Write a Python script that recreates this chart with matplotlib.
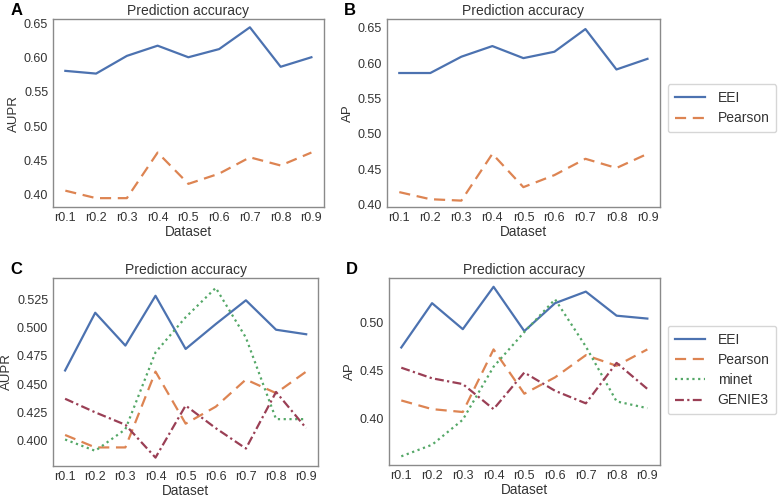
import matplotlib
matplotlib.use("Agg")
import matplotlib.pyplot as plt

plt.rcParams["font.family"] = ["Liberation Sans", "DejaVu Sans"]
plt.rcParams["font.size"] = 10

datasets = ["r0.1", "r0.2", "r0.3", "r0.4", "r0.5", "r0.6", "r0.7", "r0.8", "r0.9"]

# panel A (AUPR, two methods)
a_eei = [0.581, 0.577, 0.603, 0.618, 0.601, 0.613, 0.645, 0.587, 0.601]
a_pearson = [0.405, 0.394, 0.394, 0.461, 0.415, 0.430, 0.454, 0.442, 0.461]

# panel B (AP, two methods)
b_eei = [0.586, 0.586, 0.609, 0.624, 0.607, 0.616, 0.648, 0.591, 0.606]
b_pearson = [0.418, 0.408, 0.406, 0.472, 0.425, 0.442, 0.465, 0.452, 0.472]

# panel C (AUPR, four methods)
c_eei = [0.462, 0.513, 0.484, 0.528, 0.481, 0.503, 0.524, 0.498, 0.494]
c_pearson = [0.405, 0.394, 0.394, 0.461, 0.415, 0.430, 0.454, 0.442, 0.461]
c_minet = [0.401, 0.391, 0.410, 0.478, 0.509, 0.535, 0.491, 0.419, 0.419]
c_genie3 = [0.437, 0.425, 0.414, 0.385, 0.431, 0.411, 0.393, 0.443, 0.411]

# panel D (AP, four methods)
d_eei = [0.474, 0.520, 0.493, 0.537, 0.491, 0.520, 0.532, 0.507, 0.504]
d_pearson = [0.419, 0.410, 0.407, 0.472, 0.426, 0.443, 0.466, 0.455, 0.472]
d_minet = [0.361, 0.373, 0.399, 0.454, 0.490, 0.524, 0.475, 0.418, 0.411]
d_genie3 = [0.453, 0.442, 0.436, 0.410, 0.448, 0.429, 0.416, 0.458, 0.431]

colors = {"EEI": "#4C72B0", "Pearson": "#DD8452", "minet": "#55A868", "GENIE3": "#9a3f55"}
styles = {"EEI": "-", "Pearson": (0, (5, 3)), "minet": (0, (1, 1.6)), "GENIE3": (0, (4, 1.5, 1, 1.5))}

fig = plt.figure(figsize=(7.8, 4.97), dpi=100)


def panel(rect, letter, ylabel, series, ylim, yticks, ticklabels):
    ax = fig.add_axes(rect)
    for name, vals in series:
        ax.plot(datasets, vals, color=colors[name], linestyle=styles[name], lw=1.6, label=name)
    ax.set_ylim(*ylim)
    ax.set_yticks(yticks)
    ax.set_yticklabels(ticklabels)
    ax.set_title("Prediction accuracy", fontsize=10, pad=3, color="#333333")
    ax.set_xlabel("Dataset", fontsize=9.8, labelpad=1, color="#333333")
    ax.set_ylabel(ylabel, fontsize=9.5, labelpad=3, color="#333333")
    ax.tick_params(length=0, pad=3.5, labelsize=9, colors="#333333")
    for s in ax.spines.values():
        s.set_color("#8a8a8a")
        s.set_linewidth(1.0)
    fig.text(rect[0] - 0.055, rect[1] + rect[3] + 0.008, letter, fontsize=12, fontweight="bold")
    return ax


ax_a = panel([0.068, 0.5835, 0.347, 0.378], "A", "AUPR",
             [("EEI", a_eei), ("Pearson", a_pearson)], (0.381, 0.657),
             [0.40, 0.45, 0.50, 0.55, 0.60, 0.65], ["0.40", "0.45", "0.50", "0.55", "0.60", "0.65"])
ax_b = panel([0.496, 0.5835, 0.350, 0.378], "B", "AP",
             [("EEI", b_eei), ("Pearson", b_pearson)], (0.397, 0.662),
             [0.40, 0.45, 0.50, 0.55, 0.60, 0.65], ["0.40", "0.45", "0.50", "0.55", "0.60", "0.65"])
ax_c = panel([0.068, 0.0624, 0.340, 0.378], "C", "AUPR",
             [("EEI", c_eei), ("Pearson", c_pearson), ("minet", c_minet), ("GENIE3", c_genie3)],
             (0.3776, 0.5436),
             [0.400, 0.425, 0.450, 0.475, 0.500, 0.525], ["0.400", "0.425", "0.450", "0.475", "0.500", "0.525"])
ax_d = panel([0.4987, 0.0644, 0.347, 0.376], "D", "AP",
             [("EEI", d_eei), ("Pearson", d_pearson), ("minet", d_minet), ("GENIE3", d_genie3)],
             (0.352, 0.546),
             [0.40, 0.45, 0.50], ["0.40", "0.45", "0.50"])

for ax, y in [(ax_b, 0.782), (ax_d, 0.2555)]:
    leg = ax.legend(loc="center left", bbox_to_anchor=(0.856, y), bbox_transform=fig.transFigure,
                    fontsize=10, handlelength=2.2, handletextpad=0.9, borderpad=0.5,
                    labelspacing=0.45, borderaxespad=0,
                    frameon=True, fancybox=True, edgecolor="#cccccc")
    for t in leg.get_texts():
        t.set_color("#333333")

fig.savefig("out.png", dpi=100)
